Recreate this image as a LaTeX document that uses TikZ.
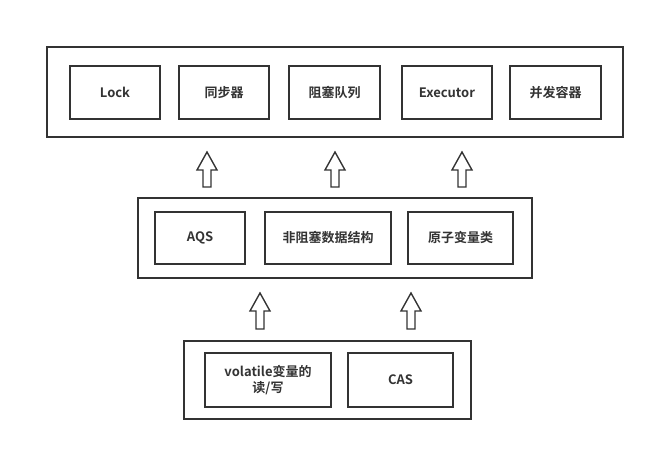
\documentclass[tikz,border=0pt]{standalone}
\usepackage{fontspec}
\setmainfont{Noto Sans CJK SC}[BoldFont={Noto Sans CJK SC Bold}]
\begin{document}
\begin{tikzpicture}[x=1pt,y=-1pt,
  outerbox/.style={draw=black!80,line width=2pt,inner sep=0pt,outer sep=0pt,rectangle},
  innerbox/.style={draw=black!80,line width=2pt,inner sep=0pt,outer sep=0pt,rectangle,
    font=\fontsize{13pt}{16pt}\selectfont\bfseries,text=black!80,align=center},
  blockarrow/.style={draw=black!80,line width=1.4pt,fill=white,line join=miter}]
\useasboundingbox (0,0) rectangle (654,452);
\newcommand{\uparrowshape}[3]{%
  \draw[blockarrow] (#1,#2) -- ++(10,18) -- ++(-6,0) -- (#1+4,#3) -- (#1-4,#3) -- (#1-4,#2+18) -- ++(-6,0) -- cycle;}
% top layer
\node[outerbox,minimum width=576pt,minimum height=90pt] (top) at (335,92) {};
\node[innerbox,minimum width=90pt,minimum height=53pt] (lock) at (115,92.5) {Lock};
\node[innerbox,minimum width=90pt,minimum height=53pt] (sync) at (224,92.5) {同步器};
\node[innerbox,minimum width=91pt,minimum height=53pt] (bq) at (334.5,92.5) {阻塞队列};
\node[innerbox,minimum width=90pt,minimum height=53pt] (exec) at (447,92.5) {Executor};
\node[innerbox,minimum width=91pt,minimum height=53pt] (cc) at (555.5,92.5) {并发容器};
% middle layer
\node[outerbox,minimum width=394pt,minimum height=80pt] (mid) at (335,238) {};
\node[innerbox,minimum width=90pt,minimum height=52pt] (aqs) at (200,238) {AQS};
\node[innerbox,minimum width=126pt,minimum height=52pt] (nb) at (328,238) {非阻塞数据结构};
\node[innerbox,minimum width=105pt,minimum height=52pt] (atom) at (460.5,238) {原子变量类};
% bottom layer
\node[outerbox,minimum width=287pt,minimum height=78pt] (bot) at (327.5,380) {};
\node[innerbox,minimum width=126pt,minimum height=54pt] (vol) at (268,380) {volatile变量的\\读/写};
\node[innerbox,minimum width=105pt,minimum height=54pt] (cas) at (400.5,380) {CAS};
% arrows
\uparrowshape{207}{152}{187}
\uparrowshape{335}{152}{187}
\uparrowshape{462}{152}{187}
\uparrowshape{260}{293}{329}
\uparrowshape{411}{293}{329}
\end{tikzpicture}
\end{document}
